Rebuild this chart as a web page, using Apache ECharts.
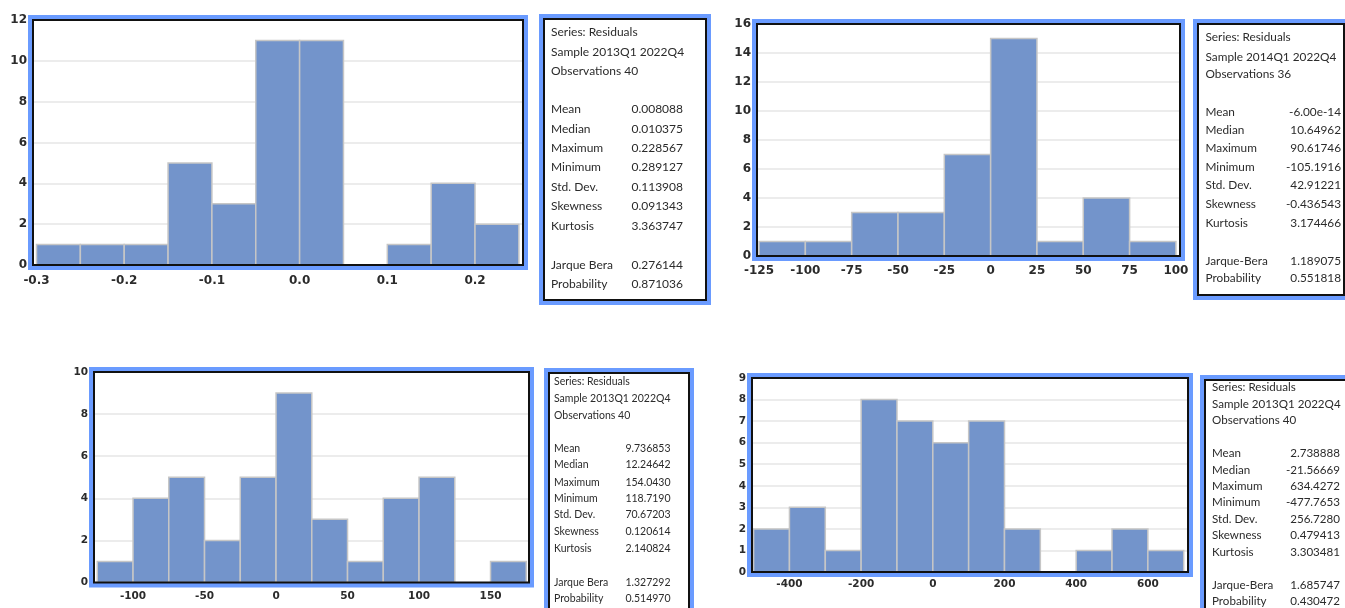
<!DOCTYPE html>
<html>
<head>
<meta charset="utf-8">
<script src="https://cdn.jsdelivr.net/npm/echarts@6/dist/echarts.min.js"></script>
<style>
html,body{margin:0;padding:0;background:#fff;}
#c{width:1345px;height:608px;}
</style>
</head>
<body>
<div id="c"></div>
<script>
// ---------- data ----------
const edges1 = [-0.3,-0.25,-0.2,-0.15,-0.1,-0.05,0,0.05,0.1,0.15,0.2,0.25];
const counts1 = [1,1,1,5,3,11,11,0,1,4,2];
const xTicks1 = [-0.3,-0.2,-0.1,0,0.1,0.2];
const yMax1 = 12, yStep1 = 2;

const edges2 = [-125,-100,-75,-50,-25,0,25,50,75,100];
const counts2 = [1,1,3,3,7,15,1,4,1];
const xTicks2 = [-125,-100,-75,-50,-25,0,25,50,75,100];
const yMax2 = 16, yStep2 = 2;

const edges3 = [-125,-100,-75,-50,-25,0,25,50,75,100,125,150,175];
const counts3 = [1,4,5,2,5,9,3,1,4,5,0,1];
const xTicks3 = [-100,-50,0,50,100,150];
const yMax3 = 10, yStep3 = 2;

const edges4 = [-500,-400,-300,-200,-100,0,100,200,300,400,500,600,700];
const counts4 = [2,3,1,8,7,6,7,2,0,1,2,1];
const xTicks4 = [-400,-200,0,200,400,600];
const yMax4 = 9, yStep4 = 1;

const statNames = ['Mean','Median','Maximum','Minimum','Std. Dev.','Skewness','Kurtosis'];
const header1 = ['Series: Residuals','Sample 2013Q1 2022Q4','Observations 40'];
const stats1 = ['0.008088','0.010375','0.228567','0.289127','0.113908','0.091343','3.363747'];
const jbNames1 = ['Jarque Bera','Probability'];
const jb1 = ['0.276144','0.871036'];

const header2 = ['Series: Residuals','Sample 2014Q1 2022Q4','Observations 36'];
const stats2 = ['-6.00e-14','10.64962','90.61746','-105.1916','42.91221','-0.436543','3.174466'];
const jbNames2 = ['Jarque-Bera','Probability'];
const jb2 = ['1.189075','0.551818'];

const header3 = ['Series: Residuals','Sample 2013Q1 2022Q4','Observations 40'];
const stats3 = ['9.736853','12.24642','154.0430','118.7190','70.67203','0.120614','2.140824'];
const jbNames3 = ['Jarque Bera','Probability'];
const jb3 = ['1.327292','0.514970'];

const header4 = ['Series: Residuals','Sample 2013Q1 2022Q4','Observations 40'];
const stats4 = ['2.738888','-21.56669','634.4272','-477.7653','256.7280','0.479413','3.303481'];
const jbNames4 = ['Jarque-Bera','Probability'];
const jb4 = ['1.685747','0.430472'];

// ---------- layout ----------
const panels = [
  {edges:edges1, counts:counts1, ticks:xTicks1, yMax:yMax1, yStep:yStep1, fmt:v=>v.toFixed(1),
   left:33, top:20, width:490, height:245, xmin:-0.304, xmax:0.2547, fs:12, xMargin:10},
  {edges:edges2, counts:counts2, ticks:xTicks2, yMax:yMax2, yStep:yStep2, fmt:v=>String(v),
   left:757, top:24, width:423, height:232, xmin:-126.1, xmax:102.2, fs:12, xMargin:9},
  {edges:edges3, counts:counts3, ticks:xTicks3, yMax:yMax3, yStep:yStep3, fmt:v=>String(v),
   left:94, top:372, width:435, height:210.5, xmin:-127.3, xmax:176.9, fs:10.5, xMargin:8},
  {edges:edges4, counts:counts4, ticks:xTicks4, yMax:yMax4, yStep:yStep4, fmt:v=>String(v),
   left:752, top:378, width:436, height:194, xmin:-504.5, xmax:712, fs:10.5, xMargin:7}
];

const boxes = [
  {header:header1, stats:stats1, jbNames:jbNames1, jb:jb1, bx:544, by:19, bw:162, bh:281,
   tx:551, vx:683, ys:[31.7,51.7,71], sy:[109.3,129,148.3,167.3,186.7,206,225.7], jy:[265,284.3], fs:12},
  {header:header2, stats:stats2, jbNames:jbNames2, jb:jb2, bx:1198, by:24, bw:146, bh:271,
   tx:1205.5, vx:1341, ys:[36.7,56.7,74], sy:[111.7,130,147.7,166.7,185,204,222.7], jy:[260.7,278.3], fs:11.8},
  {header:header3, stats:stats3, jbNames:jbNames3, jb:jb3, bx:549, by:373, bw:140, bh:260,
   tx:554, vx:670.5, ys:[381.7,398.3,415.7], sy:[448.3,465,482.3,499,515,531.7,548.3], jy:[582.3,599], fs:10.5},
  {header:header4, stats:stats4, jbNames:jbNames4, jb:jb4, bx:1205, by:380, bw:160, bh:260,
   tx:1212, vx:1340, ys:[387.3,404,420.7], sy:[453.3,470,486.7,502.7,519,535.7,552.3], jy:[585,601], fs:11.6}
];

const BAR = '#7394CB', BAR_EDGE = '#C6C6C6', FRAME = '#6A9BFF', TXT = '#2b2b2b';
const AXFONT = 'DejaVu Sans', BOXFONT = 'Lato';

function renderItem(params, api){
  const x0 = api.value(0), x1 = api.value(1), c = api.value(2);
  if (!(c > 0)) return {type:'group', children:[]};
  const p0 = api.coord([x0, 0]);
  const p1 = api.coord([x1, c]);
  return {type:'rect', shape:{x:p0[0], y:p1[1], width:p1[0]-p0[0], height:p0[1]-p1[1]},
          style:{fill:BAR, stroke:BAR_EDGE, lineWidth:1.5}};
}

const grid = [], xAxis = [], yAxis = [], series = [], graphic = [];
panels.forEach((p, i) => {
  grid.push({left:p.left, top:p.top, width:p.width, height:p.height, show:true,
             borderWidth:0, backgroundColor:'#fff'});
  xAxis.push({type:'value', gridIndex:i, min:p.xmin, max:p.xmax,
    axisLine:{show:false}, axisTick:{show:false}, splitLine:{show:false},
    axisLabel:{customValues:p.ticks, formatter:p.fmt, color:TXT, fontFamily:AXFONT, fontWeight:'bold',
               fontSize:p.fs, margin:p.xMargin, showMinLabel:true, showMaxLabel:true}});
  yAxis.push({type:'value', gridIndex:i, min:0, max:p.yMax, interval:p.yStep,
    axisLine:{show:false}, axisTick:{show:false},
    splitLine:{show:true, lineStyle:{color:'#E6E6E6', width:1.5}},
    axisLabel:{color:TXT, fontFamily:AXFONT, fontWeight:'bold', fontSize:p.fs, margin:6}});
  const data = p.counts.map((c, k) => [p.edges[k], p.edges[k+1], c]);
  series.push({type:'custom', xAxisIndex:i, yAxisIndex:i, renderItem, data,
               encode:{x:[0,1], y:2}, clip:false, z:3});
  graphic.push({type:'rect', z:50, silent:true,
    shape:{x:p.left-2.5, y:p.top-2.5, width:p.width+5, height:p.height+5},
    style:{fill:'none', stroke:FRAME, lineWidth:5}});
  graphic.push({type:'rect', z:51, silent:true,
    shape:{x:p.left, y:p.top, width:p.width, height:p.height},
    style:{fill:'none', stroke:'#111', lineWidth:2}});
});

boxes.forEach(b => {
  graphic.push({type:'rect', z:40, silent:true,
    shape:{x:b.bx-2.5, y:b.by-2.5, width:b.bw+5, height:b.bh+5},
    style:{fill:'none', stroke:FRAME, lineWidth:5}});
  graphic.push({type:'rect', z:41, silent:true,
    shape:{x:b.bx, y:b.by, width:b.bw, height:b.bh},
    style:{fill:'#fff', stroke:'#111', lineWidth:2}});
  const font = b.fs + 'px ' + BOXFONT;
  const addText = (t, x, y, align) => graphic.push({type:'text', z:45, silent:true,
    style:{text:t, x:x, y:y, font:font, fill:TXT, textAlign:align, textVerticalAlign:'middle'}});
  b.header.forEach((t, k) => addText(t, b.tx, b.ys[k], 'left'));
  statNames.forEach((t, k) => { addText(t, b.tx, b.sy[k], 'left'); addText(b.stats[k], b.vx, b.sy[k], 'right'); });
  b.jbNames.forEach((t, k) => { addText(t, b.tx, b.jy[k], 'left'); addText(b.jb[k], b.vx, b.jy[k], 'right'); });
});

const chart = echarts.init(document.getElementById('c'), null, {renderer:'canvas'});
chart.setOption({animation:false, backgroundColor:'#fff', grid, xAxis, yAxis, series, graphic});
</script>
</body>
</html>
